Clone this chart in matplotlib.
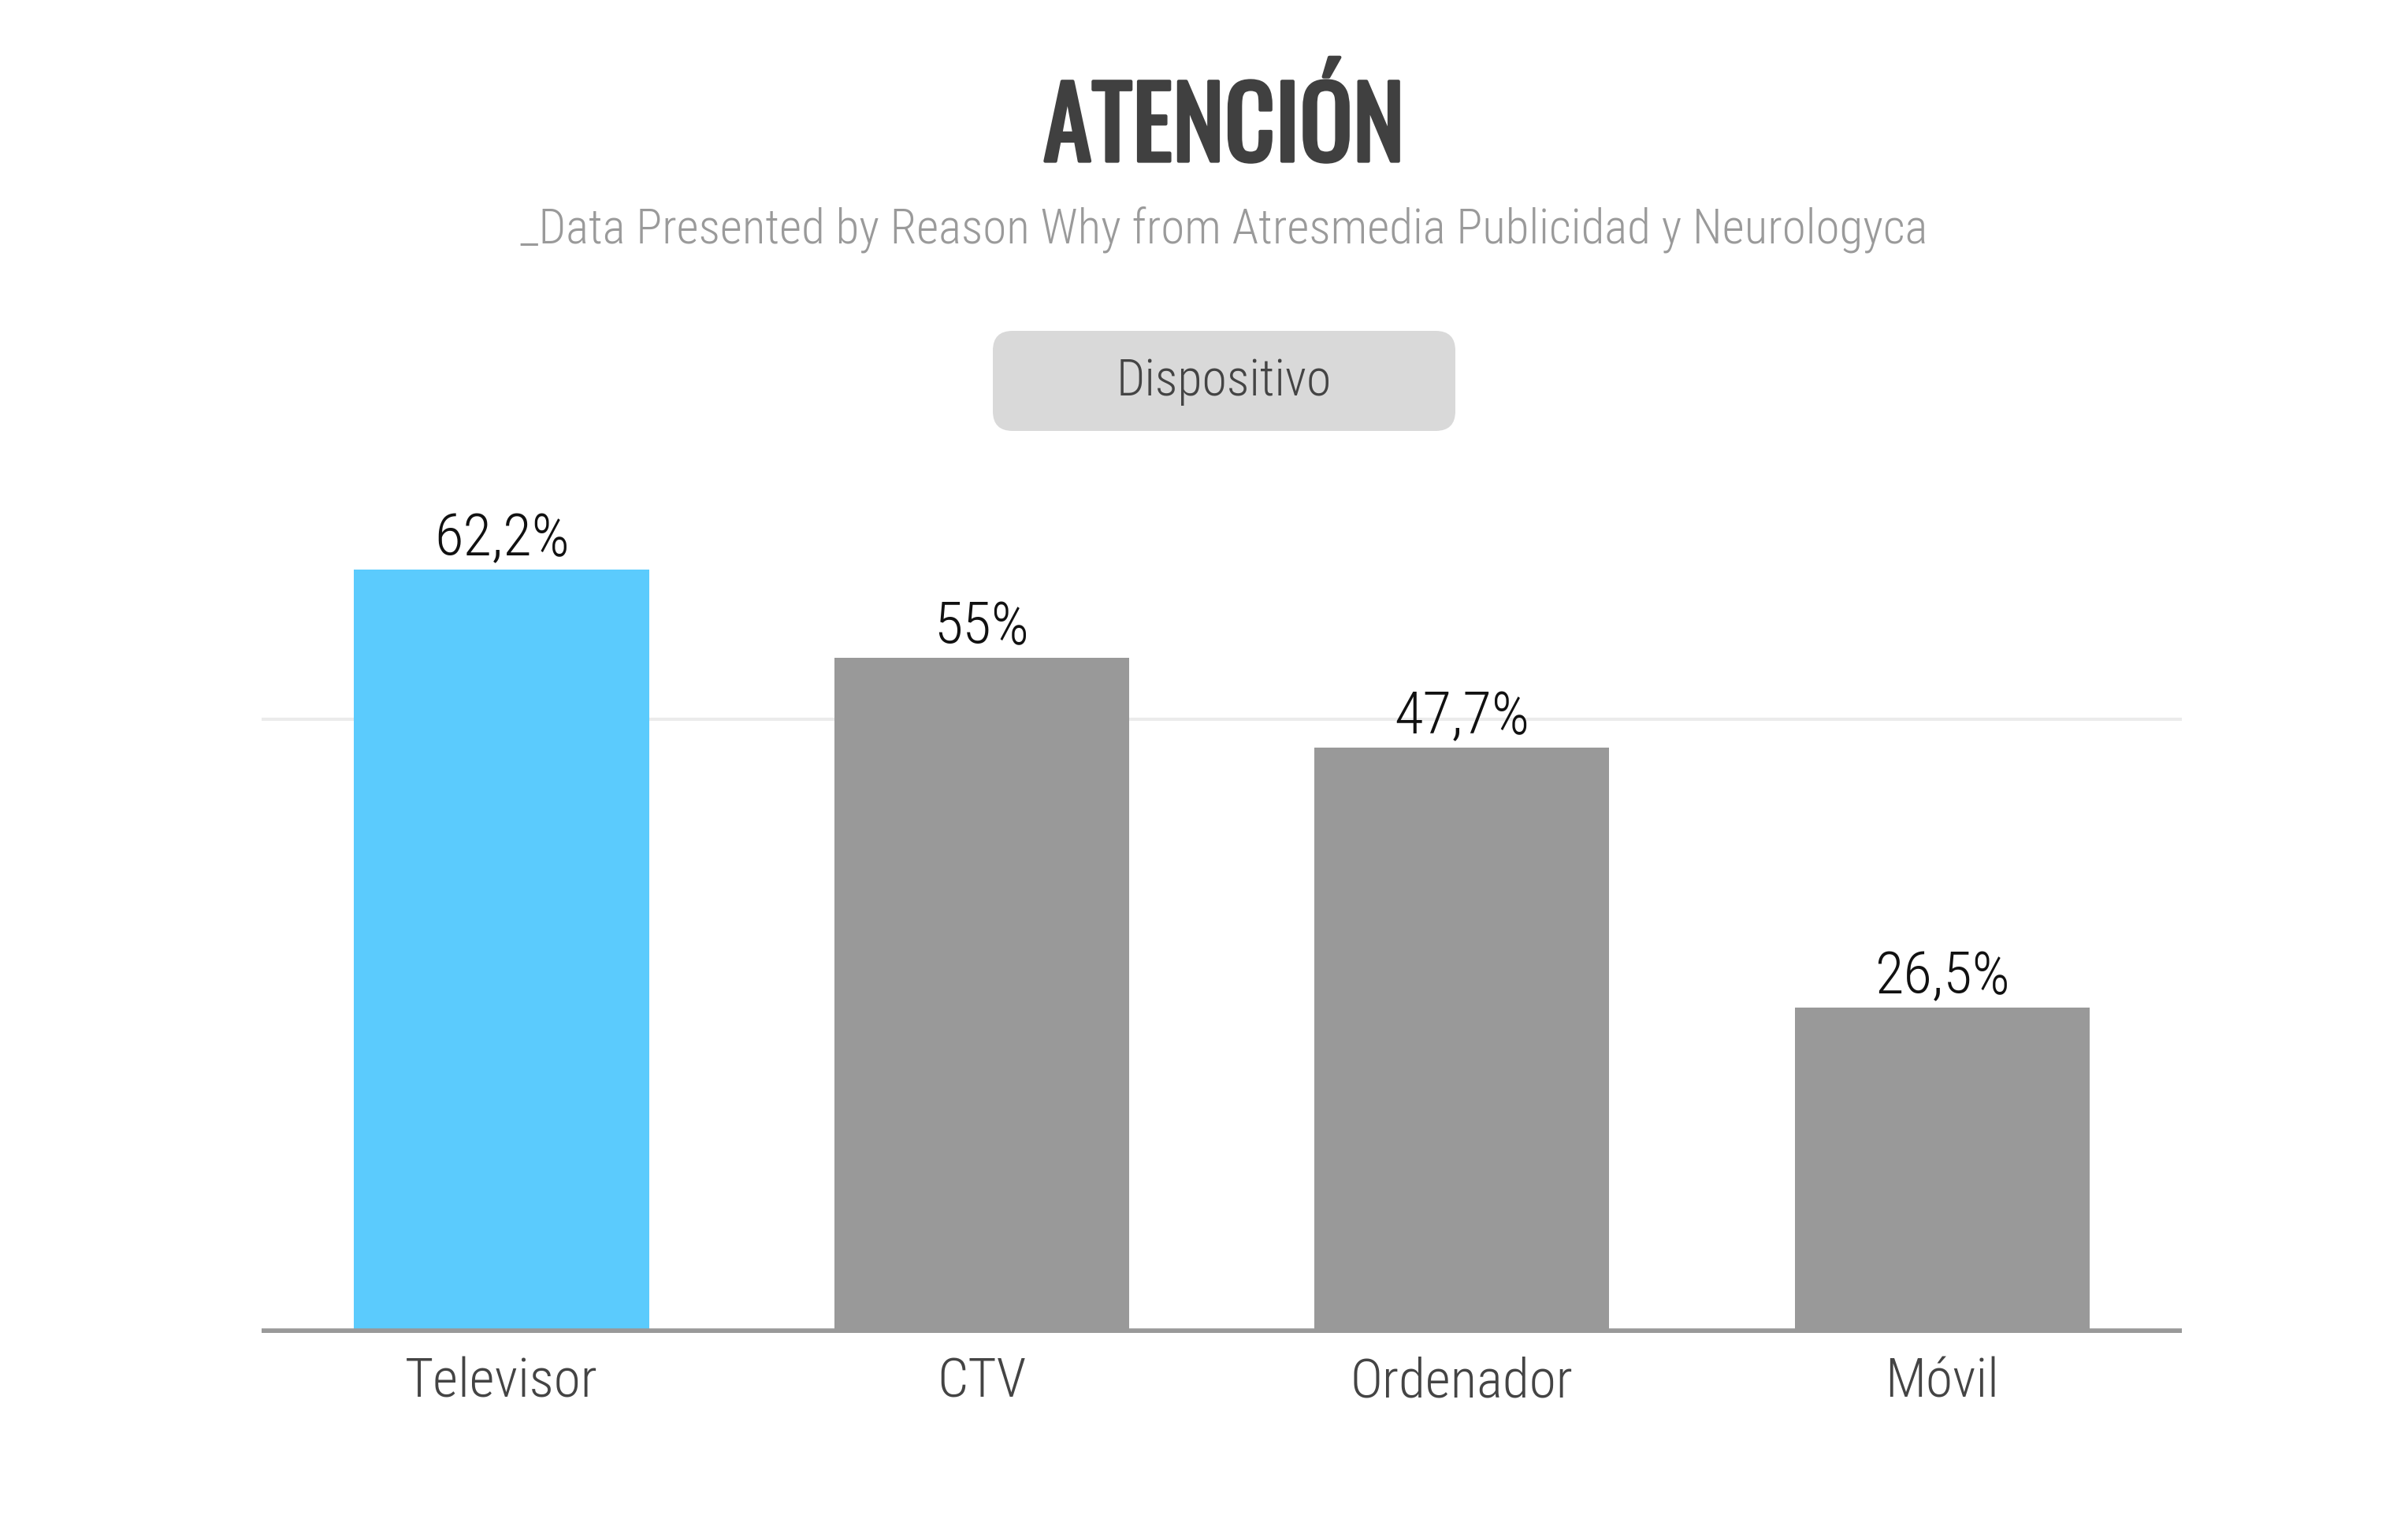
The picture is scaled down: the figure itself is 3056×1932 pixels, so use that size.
import matplotlib
matplotlib.use("Agg")
import matplotlib.pyplot as plt
import matplotlib.patheffects as pe
from matplotlib.patches import FancyBboxPatch

plt.rcParams['font.family'] = ['Roboto Condensed', 'DejaVu Sans']
plt.rcParams['font.weight'] = 300

categorias = ['Televisor', 'CTV', 'Ordenador', 'Móvil']
valores = [62.2, 55, 47.7, 26.5]
etiquetas = ['62,2%', '55%', '47,7%', '26,5%']
colores = ['#5bcbfd', '#999999', '#999999', '#999999']

fig = plt.figure(figsize=(30.56, 19.32), dpi=100)
fig.patch.set_facecolor('white')

# titulo y subtitulo
fig.text(0.5083, 0.916, 'ATENCIÓN', ha='center', va='center',
         fontsize=90, family=['Oswald', 'DejaVu Sans'], fontweight='normal',
         color='#404040',
         path_effects=[pe.withStroke(linewidth=3, foreground='#404040')])
fig.text(0.5083, 0.849,
         '_Data Presented by Reason Why from Atresmedia Publicidad y Neurologyca',
         ha='center', va='center', fontsize=44, color='#9a9a9a')

# caja "Dispositivo"
caja = FancyBboxPatch((12.60, 13.85), 5.87, 1.27,
                      boxstyle='round,pad=0,rounding_size=0.25',
                      transform=fig.dpi_scale_trans,
                      facecolor='#d9d9d9', edgecolor='none')
fig.patches.append(caja)
fig.text(0.5083, 0.7497, 'Dispositivo', ha='center', va='center',
         fontsize=46, color='#444444')

ax = fig.add_axes([0.1086, 0.1242, 0.7976, 0.5724])
x = range(len(categorias))
ax.bar(x, valores, width=0.614, color=colores, zorder=2)
ax.set_xlim(-0.5, 3.5)
ax.set_ylim(0, 71)

ax.axhline(50, color='#ebebeb', lw=2.9, zorder=1)
ax.axhline(0, color='#999999', lw=9, zorder=3)

for i, v in enumerate(valores):
    ax.annotate(etiquetas[i], xy=(i, v), xytext=(0, 13),
                textcoords='offset points', ha='center', va='baseline',
                fontsize=54, color='#111111')

ax.set_xticks(list(x))
ax.set_xticklabels(categorias, fontsize=50, color='#444444')
ax.tick_params(axis='x', length=0, pad=59)
for lab in ax.get_xticklabels():
    lab.set_va('baseline')
ax.set_yticks([])
for s in ax.spines.values():
    s.set_visible(False)

fig.savefig('out.png', dpi=100, facecolor='white')
